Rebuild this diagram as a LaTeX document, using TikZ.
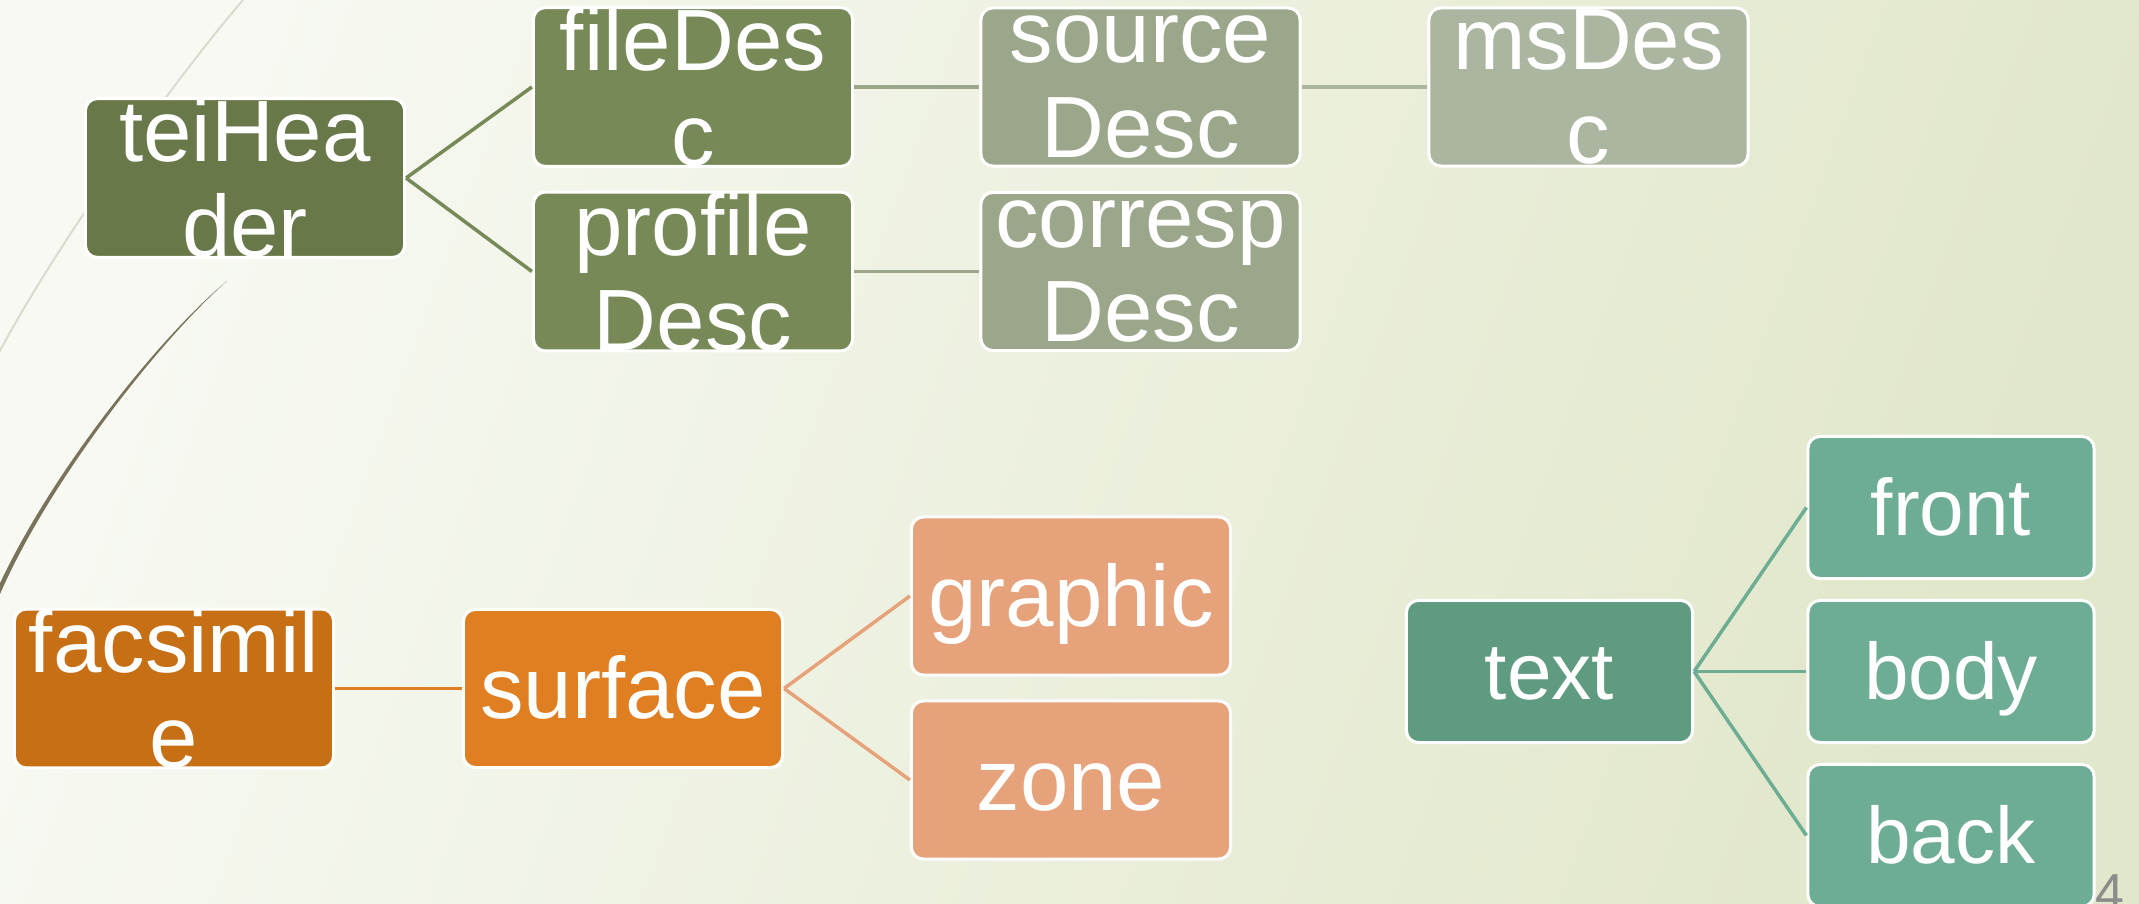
\documentclass[tikz,border=0pt]{standalone}
\usepackage{fontspec}
\setmainfont{Liberation Sans}
\usetikzlibrary{positioning}

\definecolor{bgLight}{HTML}{F7F9F2}
\definecolor{bgDark}{HTML}{E1E7CA}
\definecolor{hdrDark}{HTML}{687849}
\definecolor{hdrMid}{HTML}{768957}
\definecolor{hdrGrey}{HTML}{9CA68B}
\definecolor{hdrPale}{HTML}{ABB5A0}
\definecolor{facDark}{HTML}{C66F15}
\definecolor{facMid}{HTML}{E07F22}
\definecolor{facPale}{HTML}{E6A27B}
\definecolor{txtDark}{HTML}{5F9B80}
\definecolor{txtMid}{HTML}{6DAD93}
\definecolor{arcLight}{HTML}{D9DBCC}
\definecolor{arcDark}{HTML}{78735A}
\definecolor{pageGrey}{HTML}{8C8C8C}

\begin{document}
\begin{tikzpicture}[x=0.01cm, y=-0.01cm,
	box/.style={rectangle, rounded corners=0.12cm, draw=white, line width=0.03cm,
		inner sep=0pt, text=white, minimum width=3.19cm, minimum height=1.58cm,
		font=\fontsize{24.75}{27}\selectfont},
	twoline/.style={box, align=center},
	oneline/.style={box, text height=22.4pt, text depth=5.25pt},
	leaf/.style={box, minimum width=2.86cm, minimum height=1.42cm,
		font=\fontsize{22.8}{25}\selectfont, text height=20.6pt, text depth=4.85pt},
	link/.style={line width=0.035cm}]
	\useasboundingbox (0,0) rectangle (2139,904);
	\clip (0,0) rectangle (2139,904);
	
	% Background and the two swooshes on the left
	\shade[left color=bgLight, right color=bgDark, shading angle=70] (0,0) rectangle (2139,904);
	\draw[arcLight, line width=0.02cm] (243,0) .. controls (170,85) and (45,260) .. (-10,370);
	\fill[arcDark] (227,281) .. controls (160,340) and (50,480) .. (0,594)
		-- (-4,592) .. controls (47,478) and (158,338) .. (227,281) -- cycle;
	
	% teiHeader tree
	\node[twoline, fill=hdrDark] (tei) at (245,178) {teiHea\\der};
	\node[twoline, fill=hdrMid] (file) at (693,87) {fileDes\\c};
	\node[twoline, fill=hdrMid] (profile) at (693,271.5) {profile\\Desc};
	\node[twoline, fill=hdrGrey] (source) at (1140.5,87) {source\\Desc};
	\node[twoline, fill=hdrGrey] (corresp) at (1140.5,271.5) {corresp\\Desc};
	\node[twoline, fill=hdrPale] (ms) at (1588.5,87) {msDes\\c};
	\draw[link, hdrMid] (tei.east) -- (file.west);
	\draw[link, hdrMid] (tei.east) -- (profile.west);
	\draw[link, hdrGrey] (file.east) -- (source.west);
	\draw[link, hdrGrey] (profile.east) -- (corresp.west);
	\draw[link, hdrPale] (source.east) -- (ms.west);
	
	% facsimile tree
	\node[twoline, fill=facDark] (facs) at (174,688.5) {facsimil\\e};
	\node[oneline, fill=facMid] (surface) at (623,688.5) {surface};
	\node[oneline, fill=facPale] (graphic) at (1071,596) {graphic};
	\node[oneline, fill=facPale] (zone) at (1071,780) {zone};
	\draw[link, facMid] (facs.east) -- (surface.west);
	\draw[link, facPale] (surface.east) -- (graphic.west);
	\draw[link, facPale] (surface.east) -- (zone.west);
	
	% text tree
	\node[leaf, fill=txtDark] (text) at (1549.5,671.5) {text};
	\foreach \part/\y in {front/507.5, body/671.5, back/835.5} {
		\node[leaf, fill=txtMid] (\part) at (1951,\y) {\part};
		\draw[link, txtMid] (text.east) -- (\part.west);
	}
	
	% page number
	\node[text=pageGrey, font=\fontsize{14.8}{16}\selectfont, anchor=north west, inner sep=0pt] (pagenum) at (2095,874) {4};
\end{tikzpicture}
\end{document}
